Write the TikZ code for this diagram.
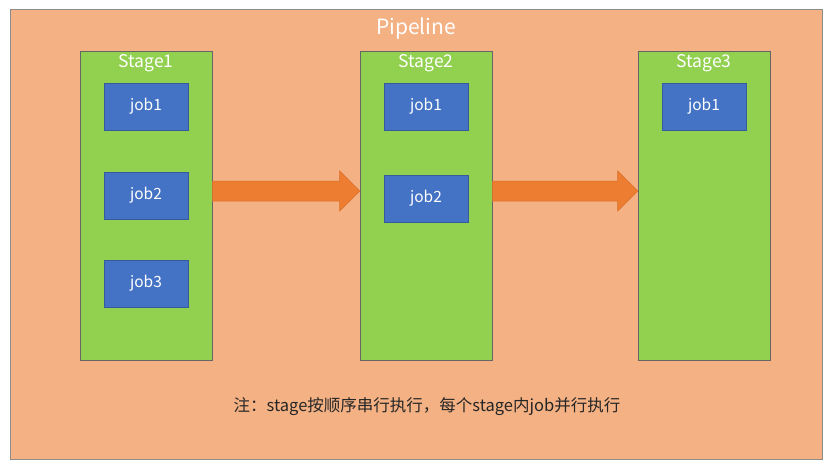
\documentclass[tikz,border=0pt]{standalone}
\usepackage{fontspec}
\setmainfont{Noto Sans CJK SC}
\usetikzlibrary{calc}
\definecolor{bgor}{HTML}{F4B183}
\definecolor{stg}{HTML}{92D050}
\definecolor{jobb}{HTML}{4472C4}
\definecolor{arr}{HTML}{ED7D31}
\definecolor{arrline}{HTML}{D9702A}
\tikzset{
  stagebox/.style={draw=black!60, line width=0.6pt, fill=stg, minimum width=132pt, minimum height=309pt, inner sep=0pt},
  jobbox/.style={draw=jobb!80!black, line width=0.5pt, fill=jobb, minimum width=84pt, minimum height=47pt, inner sep=0pt, text=white, font=\fontsize{15.5}{17}\selectfont},
  stagelabel/.style={text=white, font=\fontsize{17.5}{19}\selectfont, inner sep=0pt},
  bigarrow/.style={fill=arr, draw=arrline, line width=0.5pt}
}
\begin{document}
\begin{tikzpicture}[x=1pt,y=-1pt]
\useasboundingbox (0,0) rectangle (832,468);
\fill[white] (0,0) rectangle (832,468);
\node[draw=black!45, line width=0.8pt, fill=bgor, minimum width=812pt, minimum height=450pt, inner sep=0pt] (pipe) at (416,234) {};
\node[text=white, font=\fontsize{21}{23}\selectfont, inner sep=0pt] (pipetitle) at (416,29) {Pipeline};

\node[stagebox] (s1) at (146,205.5) {};
\node[stagebox] (s2) at (426,205.5) {};
\node[stagebox] (s3) at (704,205.5) {};
\node[stagelabel] (l1) at (146,63) {Stage1};
\node[stagelabel] (l2) at (426,63) {Stage2};
\node[stagelabel] (l3) at (704,63) {Stage3};

\node[jobbox] (j11) at (146,106.5) {job1};
\node[jobbox] (j12) at (146,195.5) {job2};
\node[jobbox] (j13) at (146,283.5) {job3};
\node[jobbox] (j21) at (426,106.5) {job1};
\node[jobbox] (j22) at (426,198.5) {job2};
\node[jobbox] (j31) at (704,106.5) {job1};

\coordinate (a1s) at (s1.east |- 0,191);
\coordinate (a1e) at (s2.west |- 0,191);
\coordinate (a2s) at (s2.east |- 0,191);
\coordinate (a2e) at (s3.west |- 0,191);
\draw[bigarrow] ($(a1s)+(0,-10)$) -- ($(a1e)+(-20,-10)$) -- ($(a1e)+(-20,-20)$) -- (a1e) -- ($(a1e)+(-20,20)$) -- ($(a1e)+(-20,10)$) -- ($(a1s)+(0,10)$) -- cycle;
\draw[bigarrow] ($(a2s)+(0,-10)$) -- ($(a2e)+(-20,-10)$) -- ($(a2e)+(-20,-20)$) -- (a2e) -- ($(a2e)+(-20,20)$) -- ($(a2e)+(-20,10)$) -- ($(a2s)+(0,10)$) -- cycle;

\node[text=black!85, font=\fontsize{16.5}{18}\selectfont, inner sep=0pt] (note) at (427,407) {注：stage按顺序串行执行，每个stage内job并行执行};
\end{tikzpicture}
\end{document}
